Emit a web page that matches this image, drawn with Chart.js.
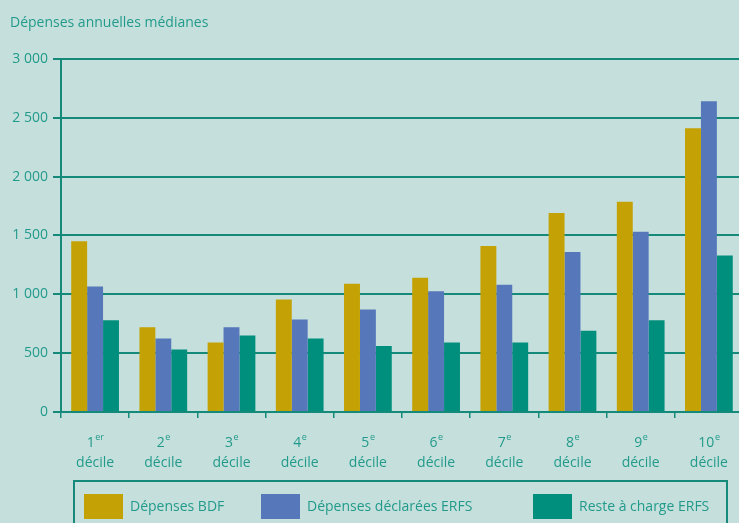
<!DOCTYPE html>
<html>
<head>
<meta charset="utf-8">
<script src="https://cdn.jsdelivr.net/npm/chart.js@4/dist/chart.umd.min.js"></script>
<style>
  html, body { margin: 0; padding: 0; background: #c5e0dc; overflow: hidden; }
  canvas { display: block; }
</style>
</head>
<body>
<canvas id="chart" width="750" height="523"></canvas>
<script>
const deciles = ['1', '2', '3', '4', '5', '6', '7', '8', '9', '10']
const decileSup = ['er', 'e', 'e', 'e', 'e', 'e', 'e', 'e', 'e', 'e']
const decileWord = 'décile'
const seriesNames = ['Dépenses BDF', 'Dépenses déclarées ERFS', 'Reste à charge ERFS']
const depensesBDF = [1450, 720, 590, 955, 1090, 1140, 1410, 1690, 1785, 2410]
const depensesERFS = [1065, 625, 720, 785, 870, 1025, 1080, 1360, 1530, 2640]
const resteERFS = [780, 530, 650, 625, 560, 590, 590, 690, 780, 1330]
const yTicks = [0, 500, 1000, 1500, 2000, 2500, 3000]

const teal = '#15897a'
const textColor = '#229a8b'
const font = '"Open Sans", "Noto Sans", sans-serif'
const colors = ['#c4a104', '#5677ba', '#008f7d']

function fmt(v){
    return String(v).replace(/\B(?=(\d{3})+(?!\d))/g, ' ')
}

// x labels with superscript + custom legend box
const extras = {
    id: 'extras',
    afterDraw(chart){
        const ctx = chart.ctx
        const x = chart.scales.x
        ctx.save()
        ctx.fillStyle = textColor
        ctx.textBaseline = 'alphabetic'
        deciles.forEach((d, i) => {
            const cx = x.getPixelForValue(i)
            ctx.font = '14px ' + font
            const w1 = ctx.measureText(d).width
            ctx.font = '9px ' + font
            const w2 = ctx.measureText(decileSup[i]).width
            const start = cx - (w1 + w2) / 2
            ctx.font = '14px ' + font
            ctx.textAlign = 'left'
            ctx.fillText(d, start, 447)
            ctx.font = '9px ' + font
            ctx.fillText(decileSup[i], start + w1 + 0.5, 440)
            ctx.font = '14px ' + font
            ctx.textAlign = 'center'
            ctx.fillText(decileWord, cx, 467)
        })

        // legend
        ctx.strokeStyle = teal
        ctx.lineWidth = 2
        ctx.strokeRect(74, 481, 653, 60)
        const boxX = [84, 261, 533]
        ctx.font = '14px ' + font
        ctx.textAlign = 'left'
        ctx.textBaseline = 'middle'
        seriesNames.forEach((name, i) => {
            ctx.fillStyle = colors[i]
            ctx.fillRect(boxX[i], 494, 39, 25)
            ctx.fillStyle = textColor
            ctx.fillText(name, boxX[i] + 46, 507)
        })
        ctx.restore()
    }
}

new Chart(document.getElementById('chart').getContext('2d'), {
    type: 'bar',
    data: {
        labels: deciles.map((d, i) => d + decileSup[i] + ' ' + decileWord),
        datasets: [
            { label: seriesNames[0], data: depensesBDF, backgroundColor: colors[0] },
            { label: seriesNames[1], data: depensesERFS, backgroundColor: colors[1] },
            { label: seriesNames[2], data: resteERFS, backgroundColor: colors[2] },
        ]
    },
    options: {
        responsive: false,
        animation: false,
        categoryPercentage: 0.7,
        barPercentage: 1.0,
        layout: { padding: { left: 10, right: 7, top: 0, bottom: 45 } },
        plugins: {
            legend: { display: false },
            tooltip: { enabled: false },
            title: {
                display: true,
                text: 'Dépenses annuelles médianes',
                align: 'start',
                color: textColor,
                font: { family: font, size: 14, weight: 'normal' },
                padding: { top: 15, bottom: 27 }
            }
        },
        scales: {
            x: {
                grid: { drawOnChartArea: false, drawTicks: true, tickLength: 6, color: teal, lineWidth: 1.5 },
                border: { display: true, color: teal, width: 2 },
                ticks: { display: false },
                afterFit(scale){ scale.height = 66 }
            },
            y: {
                min: 0,
                max: 3000,
                afterBuildTicks(scale){ scale.ticks = yTicks.map(v => ({ value: v })) },
                grid: { color: teal, lineWidth: 2, tickLength: 8 },
                border: { display: true, color: teal, width: 2 },
                ticks: {
                    color: textColor,
                    padding: 5,
                    font: { family: font, size: 14 },
                    callback: v => fmt(v)
                },
                afterFit(scale){ scale.width = 51 }
            }
        }
    },
    plugins: [extras]
})
</script>
</body>
</html>
